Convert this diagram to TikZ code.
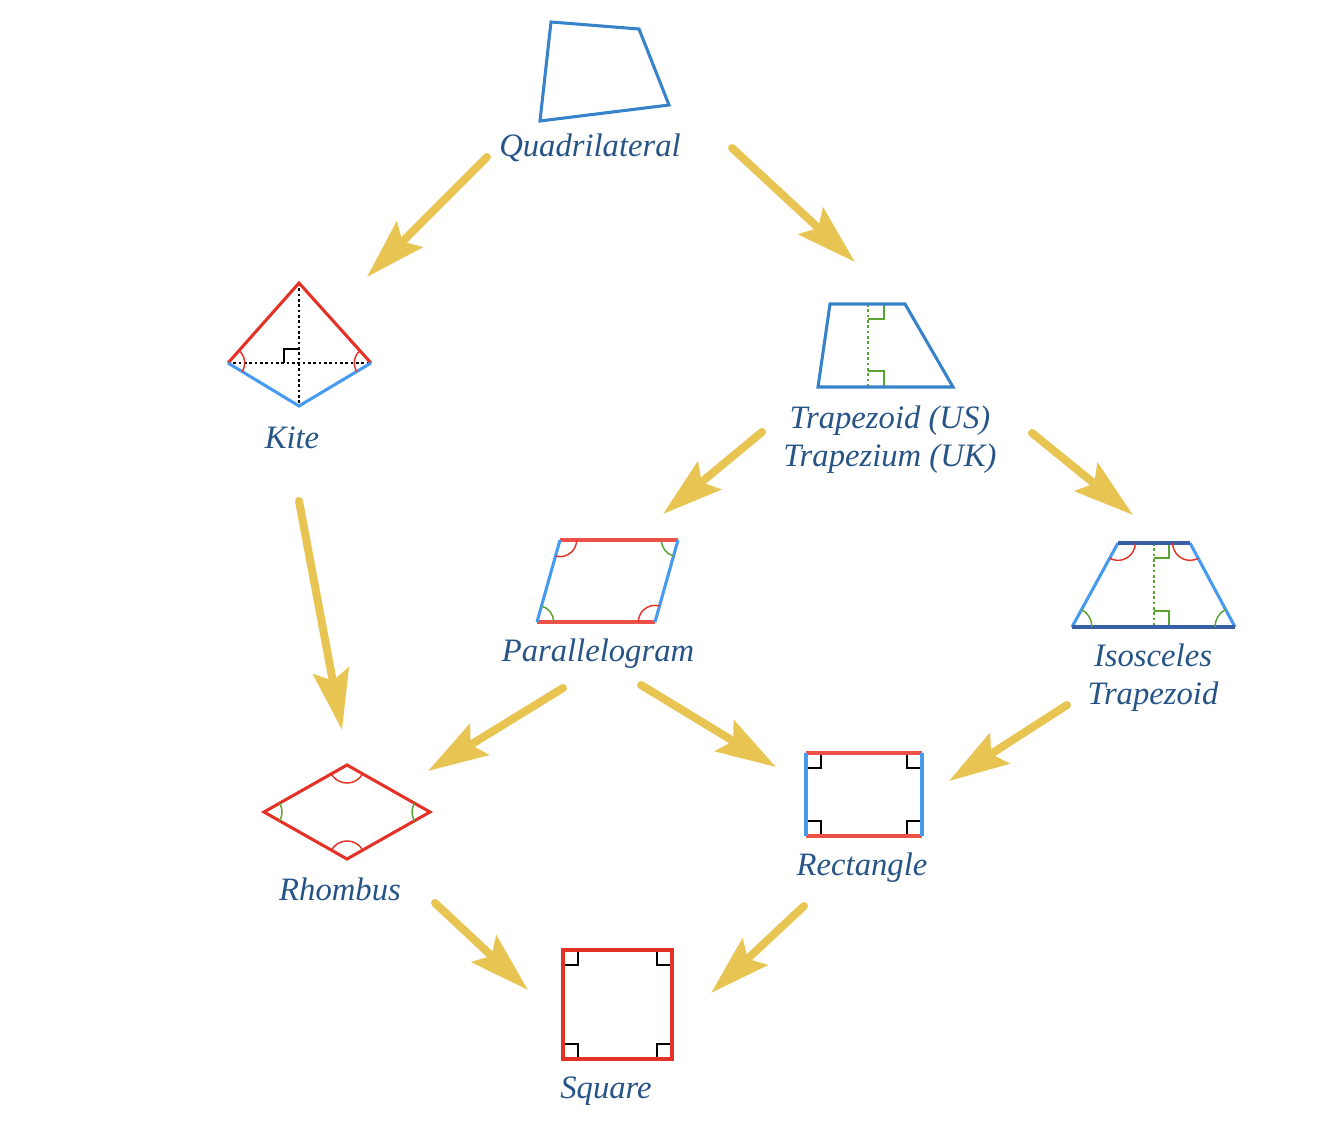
\documentclass[tikz,border=0pt]{standalone}
\usepackage{fontspec}
\setmainfont{Liberation Serif}
\usetikzlibrary{arrows.meta,angles}
\definecolor{txt}{RGB}{38,84,134}
\definecolor{qblue}{RGB}{55,130,200}
\definecolor{lblue}{RGB}{70,155,240}
\definecolor{dblue}{RGB}{55,95,165}
\definecolor{sred}{RGB}{228,50,38}
\definecolor{lred}{RGB}{236,80,70}
\definecolor{sgreen}{RGB}{90,165,50}
\definecolor{arr}{RGB}{232,197,82}
\tikzset{
 lbl/.style={text=txt, font=\fontsize{24.5}{28.5}\selectfont\itshape, align=center, inner sep=0pt},
 edge/.style={line width=2.3pt},
 flow/.style={draw=arr, line width=6pt, line cap=round, -{Stealth[length=45pt,width=27pt,inset=7.5pt]}},
 rmark/.style={draw=black, line width=1.1pt},
 gmark/.style={draw=sgreen, line width=1.1pt},
 dotl/.style={line width=1.4pt, dash pattern=on 2pt off 2pt},
 ang/.style={draw=#1, line width=1.1pt},
}
\begin{document}
\begin{tikzpicture}[x=0.75pt,y=-0.75pt]
\useasboundingbox (0,0) rectangle (1334,1141);
% Quadrilateral
\coordinate (q1) at (551,22); \coordinate (q2) at (639,29);
\coordinate (q3) at (669,105); \coordinate (q4) at (540,121);
\draw[edge,qblue] (q1)--(q2)--(q3)--(q4)--cycle;
\node[lbl] (lquad) at (590,148) {Quadrilateral};
% Kite
\coordinate (kT) at (299,283); \coordinate (kL) at (228,363);
\coordinate (kR) at (371,363); \coordinate (kB) at (299,406);
\coordinate (kC) at (299,363);
\draw[dotl] (kT)--(kB); \draw[dotl] (kL)--(kR);
\draw[rmark] (kC) ++(-15,0) -- ++(0,-14) -- ++(15,0);
\draw[edge,sred] (kL)--(kT)--(kR);
\draw[edge,lblue] (kL)--(kB)--(kR);
\pic[ang=sred, angle radius=12.5pt] {angle=kB--kL--kT};
\pic[ang=sred, angle radius=12.5pt] {angle=kT--kR--kB};
\node[lbl] (lkite) at (292,438) {Kite};
% Trapezoid
\coordinate (tTL) at (830,304); \coordinate (tTR) at (905,304);
\coordinate (tBR) at (953,387); \coordinate (tBL) at (818,387);
\coordinate (tMt) at (868,304); \coordinate (tMb) at (868,387);
\draw[dotl,sgreen] (tMt)--(tMb);
\draw[gmark] (tMt) ++(0,15) -- ++(16,0) -- ++(0,-15);
\draw[gmark] (tMb) ++(0,-16) -- ++(16,0) -- ++(0,16);
\draw[edge,qblue] (tTL)--(tTR)--(tBR)--(tBL)--cycle;
\node[lbl] (ltrap) at (890,440) {Trapezoid (US)\\Trapezium (UK)};
% Parallelogram
\coordinate (pTL) at (560,540); \coordinate (pTR) at (678,540);
\coordinate (pBR) at (655,622); \coordinate (pBL) at (537,622);
\draw[edge,lred] (pTL)--(pTR); \draw[edge,lred] (pBL)--(pBR);
\draw[edge,lblue] (pTL)--(pBL); \draw[edge,lblue] (pTR)--(pBR);
\pic[ang=sred, angle radius=12.5pt] {angle=pBL--pTL--pTR};
\pic[ang=sgreen, angle radius=12.5pt] {angle=pBR--pBL--pTL};
\pic[ang=sred, angle radius=12.5pt] {angle=pTR--pBR--pBL};
\pic[ang=sgreen, angle radius=12.5pt] {angle=pTL--pTR--pBR};
\node[lbl] (lpar) at (598,654) {Parallelogram};
% Isosceles trapezoid
\coordinate (iTL) at (1118,543); \coordinate (iTR) at (1190,543);
\coordinate (iBR) at (1235,627); \coordinate (iBL) at (1072,627);
\coordinate (iMt) at (1154,543); \coordinate (iMb) at (1154,627);
\draw[dotl,sgreen] (iMt)--(iMb);
\draw[gmark] (iMt) ++(0,15) -- ++(15,0) -- ++(0,-15);
\draw[gmark] (iMb) ++(0,-16) -- ++(15,0) -- ++(0,16);
\draw[edge,lblue] (iTL)--(iBL); \draw[edge,lblue] (iTR)--(iBR);
\draw[edge,dblue] (iTL)--(iTR); \draw[edge,dblue] (iBL)--(iBR);
\pic[ang=sred, angle radius=13pt] {angle=iBL--iTL--iTR};
\pic[ang=sgreen, angle radius=15pt] {angle=iBR--iBL--iTL};
\pic[ang=sgreen, angle radius=15pt] {angle=iTR--iBR--iBL};
\pic[ang=sred, angle radius=13pt] {angle=iTL--iTR--iBR};
\node[lbl] (liso) at (1153,678) {Isosceles\\Trapezoid};
% Rhombus
\coordinate (rL) at (264,812); \coordinate (rT) at (347,765);
\coordinate (rR) at (430,812); \coordinate (rB) at (347,859);
\draw[edge,sred] (rL)--(rT)--(rR)--(rB)--cycle;
\pic[ang=sred, angle radius=13.5pt] {angle=rL--rT--rR};
\pic[ang=sgreen, angle radius=13.5pt] {angle=rB--rL--rT};
\pic[ang=sred, angle radius=13.5pt] {angle=rR--rB--rL};
\pic[ang=sgreen, angle radius=13.5pt] {angle=rT--rR--rB};
\node[lbl] (lrho) at (340,889) {Rhombus};
% Rectangle
\coordinate (eTL) at (806,753); \coordinate (eTR) at (922,753);
\coordinate (eBR) at (922,836); \coordinate (eBL) at (806,836);
\draw[rmark] (eTL) ++(0,15) -- ++(15,0) -- ++(0,-15);
\draw[rmark] (eTR) ++(0,15) -- ++(-15,0) -- ++(0,-15);
\draw[rmark] (eBL) ++(0,-15) -- ++(15,0) -- ++(0,15);
\draw[rmark] (eBR) ++(0,-15) -- ++(-15,0) -- ++(0,15);
\draw[edge,lred] (eTL)--(eTR); \draw[edge,lred] (eBL)--(eBR);
\draw[edge,lblue] (eTL)--(eBL); \draw[edge,lblue] (eTR)--(eBR);
\node[lbl] (lrect) at (862,868) {Rectangle};
% Square
\coordinate (sTL) at (563,950); \coordinate (sTR) at (672,950);
\coordinate (sBR) at (672,1059); \coordinate (sBL) at (563,1059);
\draw[rmark] (sTL) ++(0,15) -- ++(15,0) -- ++(0,-15);
\draw[rmark] (sTR) ++(0,15) -- ++(-15,0) -- ++(0,-15);
\draw[rmark] (sBL) ++(0,-15) -- ++(15,0) -- ++(0,15);
\draw[rmark] (sBR) ++(0,-15) -- ++(-15,0) -- ++(0,15);
\draw[edge,sred] (sTL)--(sTR)--(sBR)--(sBL)--cycle;
\node[lbl] (lsq) at (606,1091) {Square};
% Arrow end points
\coordinate (a1s) at (487,157); \coordinate (a1e) at (367,277);
\coordinate (a2s) at (732,148); \coordinate (a2e) at (855,262);
\coordinate (a3s) at (299,501); \coordinate (a3e) at (342,730);
\coordinate (a4s) at (762,432); \coordinate (a4e) at (663,514);
\coordinate (a5s) at (1032,433); \coordinate (a5e) at (1133,515);
\coordinate (a6s) at (563,688); \coordinate (a6e) at (428,771);
\coordinate (a7s) at (641,685); \coordinate (a7e) at (776,767);
\coordinate (a8s) at (1067,705); \coordinate (a8e) at (949,781);
\coordinate (a9s) at (435,903); \coordinate (a9e) at (528,990);
\coordinate (a10s) at (804,906); \coordinate (a10e) at (711,993);
\foreach \i in {1,...,10} \draw[flow] (a\i s) -- (a\i e);
\end{tikzpicture}
\end{document}
